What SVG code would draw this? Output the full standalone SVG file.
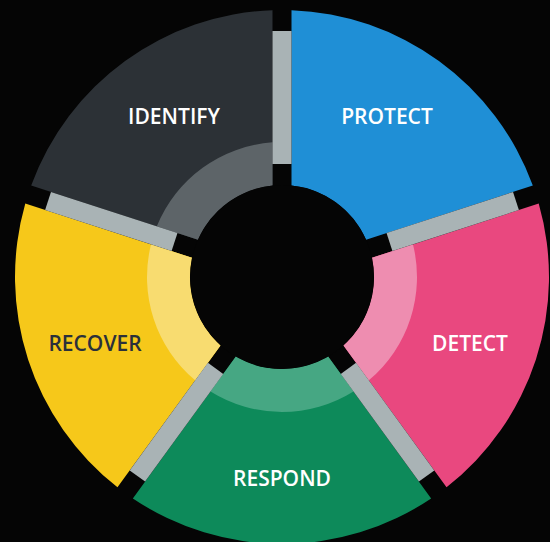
<svg xmlns="http://www.w3.org/2000/svg" width="550" height="542" viewBox="0 0 550 542">
<defs>
<path id="seg" d="M149.153 221.456 A267 267 0 0 1 -149.153 221.456 L-46.101 79.616 A92 92 0 0 0 46.101 79.616 Z"/>
<path id="band" d="M71.468 114.530 A135 135 0 0 1 -71.468 114.530 L-46.101 79.616 A92 92 0 0 0 46.101 79.616 Z"/>
<rect id="bar" x="-9.5" y="-246" width="19" height="133"/>
</defs>
<style>
.lbl{font-family:"Open Sans","Liberation Sans",sans-serif;font-weight:600;font-size:21px;text-anchor:middle}
.w{fill:#ffffff}
.d{fill:#2b303a}
.bar{fill:#a9b3b5}
</style>
<rect width="550" height="542" fill="#050505"/>
<g id="identify">
<use href="#seg" fill="#2c3136" transform="translate(282 277) rotate(144)"/>
<use href="#band" fill="#5d6468" transform="translate(282 277) rotate(144)"/>
<text class="lbl w" x="174" y="124">IDENTIFY</text>
</g>
<g id="protect">
<use href="#seg" fill="#1f8fd6" transform="translate(282 277) rotate(-144)"/>
<text class="lbl w" x="387" y="124">PROTECT</text>
</g>
<g id="detect">
<use href="#seg" fill="#e9487f" transform="translate(282 277) rotate(-72)"/>
<use href="#band" fill="#ee8db0" transform="translate(282 277) rotate(-72)"/>
<text class="lbl w" x="470" y="351">DETECT</text>
</g>
<g id="respond">
<use href="#seg" fill="#0d8a5a" transform="translate(282 277)"/>
<use href="#band" fill="#46a783" transform="translate(282 277)"/>
<text class="lbl w" x="282" y="486">RESPOND</text>
</g>
<g id="recover">
<use href="#seg" fill="#f6c81a" transform="translate(282 277) rotate(72)"/>
<use href="#band" fill="#f8dc70" transform="translate(282 277) rotate(72)"/>
<text class="lbl d" x="95" y="351">RECOVER</text>
</g>
<g id="connectors" class="bar">
<use href="#bar" transform="translate(282 277)"/>
<use href="#bar" transform="translate(282 277) rotate(72)"/>
<use href="#bar" transform="translate(282 277) rotate(144)"/>
<use href="#bar" transform="translate(282 277) rotate(216)"/>
<use href="#bar" transform="translate(282 277) rotate(288)"/>
</g>
<circle cx="282" cy="277" r="92" fill="#050505"/>
</svg>
